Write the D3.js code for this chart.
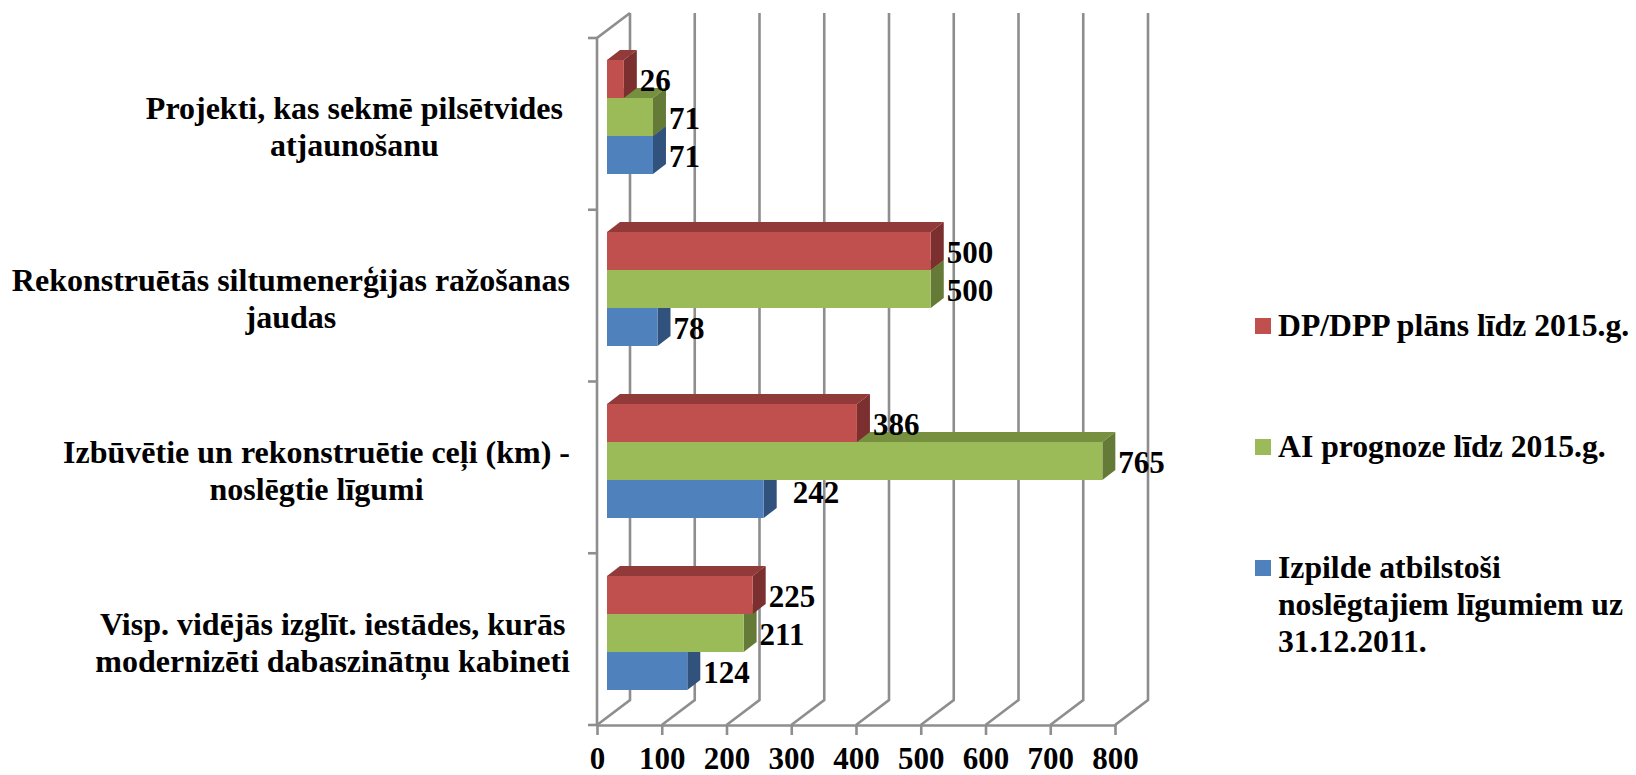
<!DOCTYPE html>
<html>
<head>
<meta charset="utf-8">
<script src="https://d3js.org/d3.v7.min.js"></script>
<style>
html,body{margin:0;padding:0;background:#fff;overflow:hidden}
text{font-family:"Liberation Serif",serif;font-weight:bold;fill:#000}
</style>
</head>
<body>
<script>
var categories=["Projekti, kas sekmē pilsētvides atjaunošanu","Rekonstruētās siltumenerģijas ražošanas jaudas","Izbūvētie un rekonstruētie ceļi (km) - noslēgtie līgumi","Visp. vidējās izglīt. iestādes, kurās modernizēti dabaszinātņu kabineti"]
var categoryLines=[["Projekti, kas sekmē pilsētvides","atjaunošanu"],["Rekonstruētās siltumenerģijas ražošanas","jaudas"],["Izbūvētie un rekonstruētie ceļi (km) -","noslēgtie līgumi"],["Visp. vidējās izglīt. iestādes, kurās","modernizēti dabaszinātņu kabineti"]]
var seriesNames=["DP/DPP plāns līdz 2015.g.","AI prognoze līdz 2015.g.","Izpilde atbilstoši noslēgtajiem līgumiem uz 31.12.2011."]
var legendLines=[["DP/DPP plāns līdz 2015.g."],["AI prognoze līdz 2015.g."],["Izpilde atbilstoši","noslēgtajiem līgumiem uz","31.12.2011."]]
var planValues=[26,500,386,225]
var forecastValues=[71,500,765,211]
var actualValues=[71,78,242,124]
var ticks=[0,100,200,300,400,500,600,700,800]
var colors=["#c0504d","#9bbb59","#4f81bd"]
var topColors=["#923a39","#76903f","#3c6290"]
var sideColors=["#7b2f2e","#647a36","#30527c"]
var allValues=[planValues,forecastValues,actualValues]

var screen={width:1636,height:775}
var depth={x:33,y:25}     // wall depth
var barDepth={x:13,y:10}  // bar depth
var gridColor="#8e8e8e"

var svg=d3.select("body").append("svg")
          .attr("width",screen.width)
          .attr("height",screen.height)

var x=d3.scaleLinear().domain([0,800]).range([597,1115])
var yAxisScale=d3.scaleBand().domain(categories).range([38,725])
var barStart=607
var barLength=d3.scaleLinear().domain([0,800]).range([0,518])
var yBar=d3.scaleBand().domain(categories).range([60,60+172*4])
var ySeries=d3.scaleBand().domain(d3.range(3)).range([0,114])

/////////////////////////////////////////////////////// walls
var wallTop=38,wallBottom=725
var grid=svg.append("g").attr("stroke",gridColor).attr("stroke-width",2.6).attr("fill","none")
grid.selectAll("path.back")
    .data(ticks)
    .enter()
    .append("path")
    .attr("class","back")
    .attr("d",function(d){
      return "M"+x(d)+","+wallBottom+"L"+(x(d)+depth.x)+","+(wallBottom-depth.y)+"L"+(x(d)+depth.x)+","+(wallTop-depth.y)
    })
grid.append("path")
    .attr("d","M"+(x(0)+depth.x)+","+(wallTop-depth.y)+"L"+x(0)+","+wallTop+"L"+x(0)+","+wallBottom)
// category ticks
var catTicks=categories.map(function(d){return yAxisScale(d)}).concat([wallBottom])
grid.selectAll("line.ytick")
    .data(catTicks)
    .enter()
    .append("line")
    .attr("class","ytick")
    .attr("x1",x(0)-9).attr("x2",x(0))
    .attr("y1",function(d){return d}).attr("y2",function(d){return d})

/////////////////////////////////////////////////////// bars
var barGroups=svg.append("g")
;[2,1,0].forEach(function(s){
  categories.forEach(function(c,i){
    var y0=yBar(c)+ySeries(s)
    var h=ySeries.bandwidth()
    var x1=barStart+barLength(allValues[s][i])
    var g=barGroups.append("g")
    g.append("path").attr("fill",topColors[s])
     .attr("d","M"+barStart+","+y0+"L"+(barStart+barDepth.x)+","+(y0-barDepth.y)+"L"+(x1+barDepth.x)+","+(y0-barDepth.y)+"L"+x1+","+y0+"Z")
    g.append("path").attr("fill",sideColors[s])
     .attr("d","M"+x1+","+y0+"L"+(x1+barDepth.x)+","+(y0-barDepth.y)+"L"+(x1+barDepth.x)+","+(y0+h-barDepth.y)+"L"+x1+","+(y0+h)+"Z")
    g.append("rect").attr("fill",colors[s])
     .attr("x",barStart).attr("y",y0).attr("width",x1-barStart).attr("height",h)
  })
})

/////////////////////////////////////////////////////// value labels
var valueFont=31
;[2,1,0].forEach(function(s){
  categories.forEach(function(c,i){
    var v=allValues[s][i]
    var dx=3,dy=1.5
    if(s==2&&i==2){dx=16;dy=-6} // this one sits off the bar in the original
    svg.append("text")
       .attr("x",barStart+barLength(v)+barDepth.x+dx)
       .attr("y",yBar(c)+ySeries(s)+ySeries.bandwidth()/2+dy)
       .attr("dy","0.33em")
       .attr("font-size",valueFont)
       .text(v)
  })
})

/////////////////////////////////////////////////////// x axis
var axis=d3.axisBottom(x).tickValues(ticks).tickSize(10).tickPadding(12).tickSizeOuter(0)
var axisG=svg.append("g").attr("transform","translate(0,"+wallBottom+")").call(axis)
axisG.selectAll("path,line").attr("stroke",gridColor).attr("stroke-width",2.6)
axisG.selectAll("text").attr("font-size",valueFont).attr("font-family","Liberation Serif").attr("font-weight","bold").attr("fill","#000")

/////////////////////////////////////////////////////// category labels
var catFont=32,catRight=570,catLine=37
categories.forEach(function(c,i){
  var center=yAxisScale(c)+yAxisScale.bandwidth()/2+4
  var g=svg.append("g")
  var t=g.selectAll("text")
         .data(categoryLines[i])
         .enter()
         .append("text")
         .attr("font-size",catFont)
         .attr("text-anchor","middle")
         .attr("y",function(d,j){return center+(j-0.5)*catLine+10})
         .text(function(d){return d})
  var w=0
  t.each(function(){w=Math.max(w,this.getComputedTextLength())})
  var right=catRight
  if(i==0){right=catRight-7} // first block stops short of the others
  t.attr("x",right-w/2)
})

/////////////////////////////////////////////////////// legend
var legendTop=[318,439,560]
var legend=svg.append("g")
seriesNames.forEach(function(n,i){
  legend.append("rect")
        .attr("x",1255).attr("y",legendTop[i])
        .attr("width",16).attr("height",16)
        .attr("fill",colors[i])
  legend.selectAll("text.l"+i)
        .data(legendLines[i])
        .enter()
        .append("text")
        .attr("class","l"+i)
        .attr("x",1278)
        .attr("y",function(d,j){return legendTop[i]+18+j*37})
        .attr("font-size",31.7)
        .text(function(d){return d})
})
</script>
</body>
</html>
